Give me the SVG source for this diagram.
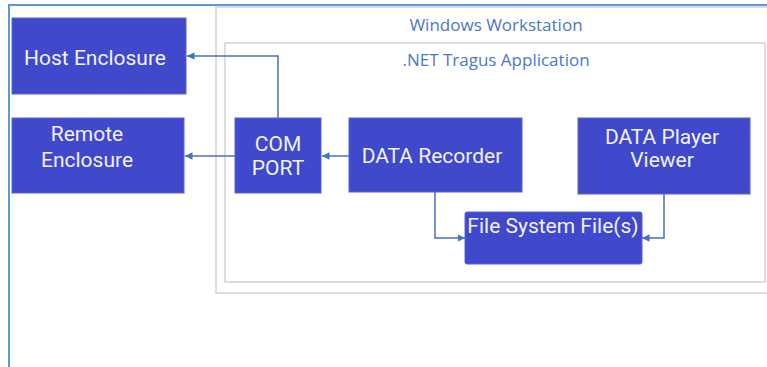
<svg xmlns="http://www.w3.org/2000/svg" width="767" height="367" viewBox="0 0 767 367">
<style>
.frame{fill:none;stroke:#5B9BD5;stroke-width:2}
.cont{fill:#fff;stroke:#d2d2d2;stroke-width:1.5}
.box{fill:#4048CC;stroke:#5a62d6;stroke-width:1}
.bt{font-family:Roboto,"Liberation Sans",Arial,sans-serif;font-size:21px;fill:#f2f2ff;text-anchor:middle}
.ct{font-family:"Open Sans","Noto Sans",sans-serif;font-size:17px;fill:#4a78cc;text-anchor:middle}
.conn{fill:none;stroke:#4472C4;stroke-width:1.5}
</style>
<defs>
<marker id="ah" viewBox="0 0 10 10" refX="10" refY="5" markerWidth="5" markerHeight="5" orient="auto" markerUnits="strokeWidth">
<path d="M0,0 L10,5 L0,10 z" fill="#4472C4"/>
</marker>
</defs>
<rect width="767" height="367" fill="#fff"/>
<path class="frame" d="M9,367 V5 H767"/>
<g id="windows-workstation">
<rect class="cont" x="216" y="7" width="570" height="286"/>
<text class="ct" x="496" y="31">Windows Workstation</text>
</g>
<g id="net-tragus-application">
<rect class="cont" x="225" y="43" width="540" height="239"/>
<text class="ct" x="496" y="66">.NET Tragus Application</text>
</g>
<g id="host-enclosure">
<rect class="box" x="12" y="18" width="174" height="76"/>
<text class="bt" x="95" y="65">Host Enclosure</text>
</g>
<g id="remote-enclosure">
<rect class="box" x="12" y="118" width="172" height="75"/>
<text class="bt" x="87" y="141">Remote</text>
<text class="bt" x="87" y="167">Enclosure</text>
</g>
<g id="com-port">
<rect class="box" x="235" y="118" width="86" height="75"/>
<text class="bt" x="278" y="151">COM</text>
<text class="bt" x="278" y="175">PORT</text>
</g>
<g id="data-recorder">
<rect class="box" x="349" y="118" width="173" height="74"/>
<text class="bt" x="432" y="163">DATA Recorder</text>
</g>
<g id="data-player-viewer">
<rect class="box" x="578" y="118" width="172" height="76"/>
<text class="bt" x="662" y="144">DATA Player</text>
<text class="bt" x="662" y="167">Viewer</text>
</g>
<g id="file-system-files">
<rect class="box" x="465" y="212" width="177" height="52" rx="2"/>
<text class="bt" x="553" y="233">File System File(s)</text>
</g>
<g id="connectors">
<path class="conn" d="M278,118 V56 H187" marker-end="url(#ah)"/>
<path class="conn" d="M235,156 H185" marker-end="url(#ah)"/>
<path class="conn" d="M349,156 H322" marker-end="url(#ah)"/>
<path class="conn" d="M435,192 V238 H465" marker-end="url(#ah)"/>
<path class="conn" d="M664,194 V238 H642" marker-end="url(#ah)"/>
</g>
</svg>
